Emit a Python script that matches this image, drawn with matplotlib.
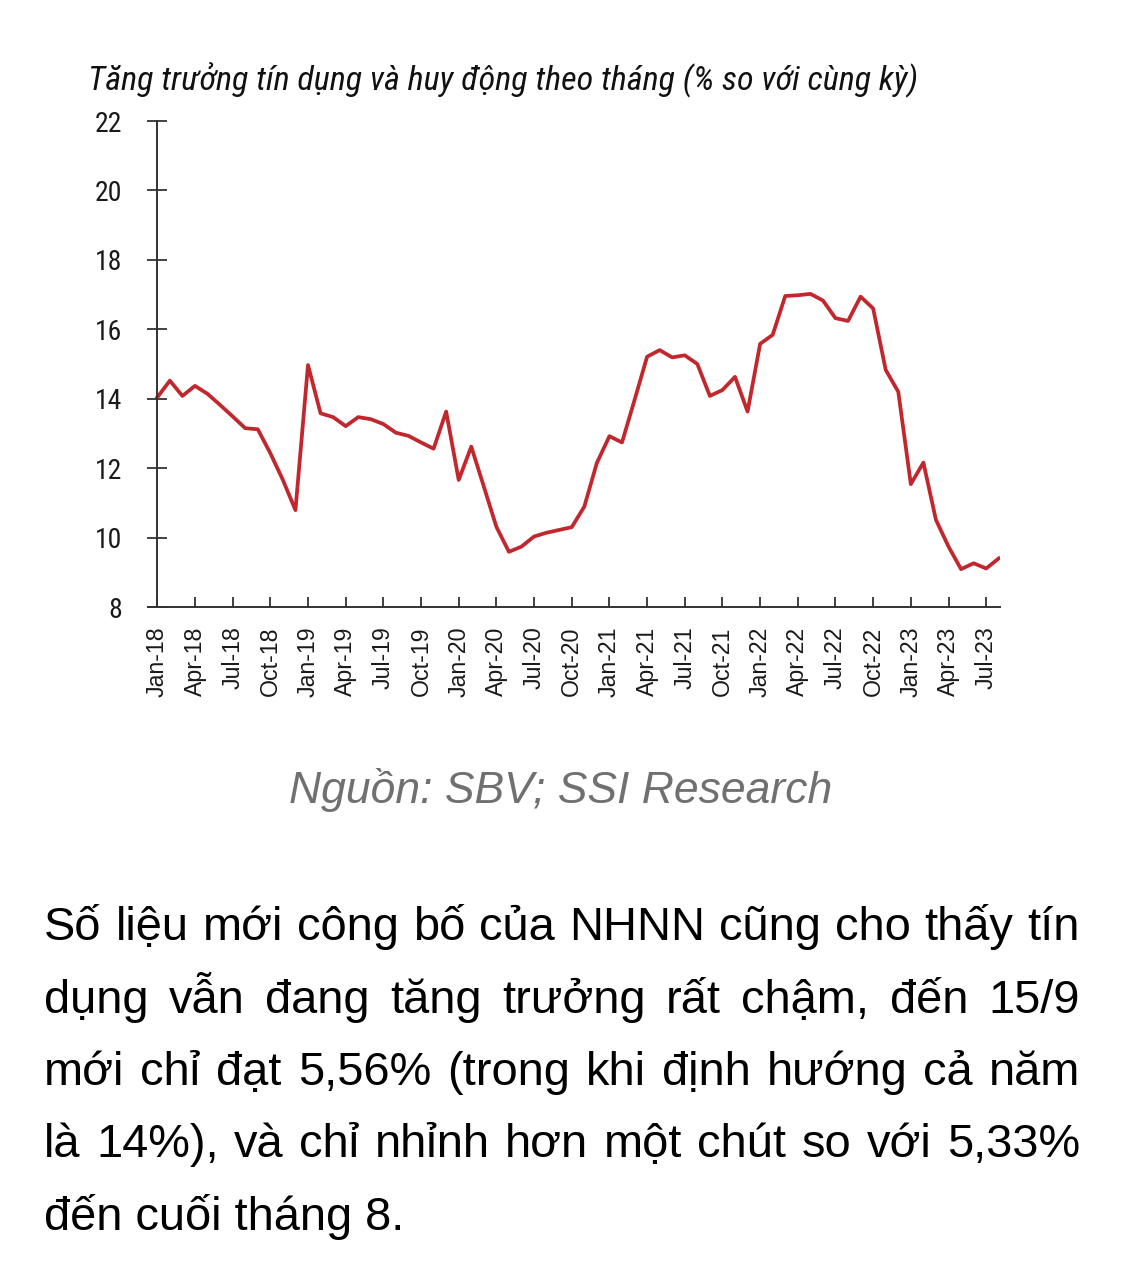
import matplotlib
matplotlib.use("Agg")
import matplotlib.pyplot as plt
from matplotlib import font_manager

# monthly y/y credit growth, Jan-18 .. Aug-23
growth = [14.04, 14.52, 14.08, 14.37, 14.14, 13.82, 13.49, 13.15, 13.12, 12.43,
          11.66, 10.79, 14.97, 13.58, 13.47, 13.21, 13.47, 13.41, 13.27, 13.02,
          12.93, 12.74, 12.56, 13.63, 11.66, 12.62, 11.47, 10.31, 9.59, 9.74,
          10.03, 10.14, 10.22, 10.30, 10.89, 12.15, 12.92, 12.74, 13.96, 15.21,
          15.40, 15.19, 15.25, 15.00, 14.08, 14.25, 14.63, 13.63, 15.58, 15.84,
          16.96, 16.98, 17.02, 16.83, 16.32, 16.24, 16.94, 16.60, 14.83, 14.20,
          11.54, 12.16, 10.51, 9.74, 9.09, 9.26, 9.11, 9.40]
month_labels = ["Jan-18", "Apr-18", "Jul-18", "Oct-18", "Jan-19", "Apr-19", "Jul-19", "Oct-19",
                "Jan-20", "Apr-20", "Jul-20", "Oct-20", "Jan-21", "Apr-21", "Jul-21", "Oct-21",
                "Jan-22", "Apr-22", "Jul-22", "Oct-22", "Jan-23", "Apr-23", "Jul-23"]
y_ticks = [8, 10, 12, 14, 16, 18, 20, 22]

title = "Tăng trưởng tín dụng và huy động theo tháng (% so với cùng kỳ)"
source = "Nguồn: SBV; SSI Research"
paragraph = ["Số liệu mới công bố của NHNN cũng cho thấy tín",
             "dụng vẫn đang tăng trưởng rất chậm, đến 15/9",
             "mới chỉ đạt 5,56% (trong khi định hướng cả năm",
             "là 14%), và chỉ nhỉnh hơn một chút so với 5,33%",
             "đến cuối tháng 8."]

W, H = 1122, 1280
fig = plt.figure(figsize=(W / 100, H / 100), dpi=100)
fig.patch.set_facecolor("white")
renderer = fig.canvas.get_renderer()

sans = ["Liberation Sans", "DejaVu Sans"]
installed = {f.name for f in font_manager.fontManager.ttflist}
narrow = [n for n in ["Liberation Sans Narrow", "Arial Narrow", "Roboto Condensed",
                      "Open Sans Condensed", "DejaVu Sans Condensed"] if n in installed] + sans


def fit_size(text, width_px, **kw):
    # font size that makes the text as wide as in the reference
    t = fig.text(0, 0, text, fontsize=20, **kw)
    w = t.get_window_extent(renderer).width
    t.remove()
    return 20 * width_px / w


ax = fig.add_axes([148 / W, 1 - 607 / H, (1000 - 148) / W, (607 - 121) / H])
x = list(range(len(growth)))
ax.plot(x, growth, color="#C1272D", lw=2.7, solid_joinstyle="round")
ax.set_xlim(-0.74, 67.1)
ax.set_ylim(8, 22)

for s in ["top", "right"]:
    ax.spines[s].set_visible(False)
ax.spines["left"].set_position(("data", 0))
for s in ["left", "bottom"]:
    ax.spines[s].set_color("#333333")
    ax.spines[s].set_linewidth(1.4)

ax.set_yticks(y_ticks)
ax.set_yticklabels([str(v) for v in y_ticks], family=narrow, fontstretch="condensed",
                   fontsize=20, color="#1a1a1a")
ax.tick_params(axis="y", direction="inout", length=14, width=1.3, color="#333333", pad=18)

ax.set_xticks(list(range(0, 67, 3)))
ax.set_xticklabels(month_labels, rotation=90, family=sans, fontsize=16.7, color="#1a1a1a")
ax.tick_params(axis="x", direction="in", length=7, width=1.3, color="#333333", pad=14)

title_kw = dict(family=narrow, fontstretch="condensed", style="italic")
fig.text(88 / W, 1 - 89 / H, title, fontsize=fit_size(title, 830, **title_kw),
         color="#111111", va="baseline", ha="left", **title_kw)

src_kw = dict(family=sans, style="italic")
fig.text(561 / W, 1 - 803 / H, source, fontsize=fit_size(source, 542, **src_kw),
         color="#707070", va="baseline", ha="center", **src_kw)

# justified paragraph
x0, x1 = 44, 1080
baselines = [940, 1013, 1085, 1157, 1230]
fs = fit_size(paragraph[-1], 360, family=sans)
for i, (line, yb) in enumerate(zip(paragraph, baselines)):
    if i == len(paragraph) - 1:
        fig.text(x0 / W, 1 - yb / H, line, family=sans, fontsize=fs, color="black",
                 va="baseline", ha="left")
        continue
    words = line.split(" ")
    widths = []
    for w in words:
        t = fig.text(0, 0, w, family=sans, fontsize=fs)
        widths.append(t.get_window_extent(renderer).width)
        t.remove()
    gap = (x1 - x0 - sum(widths)) / (len(words) - 1)
    xp = x0
    for w, wd in zip(words, widths):
        fig.text(xp / W, 1 - yb / H, w, family=sans, fontsize=fs, color="black",
                 va="baseline", ha="left")
        xp += wd + gap

fig.savefig("out.png", dpi=100)
